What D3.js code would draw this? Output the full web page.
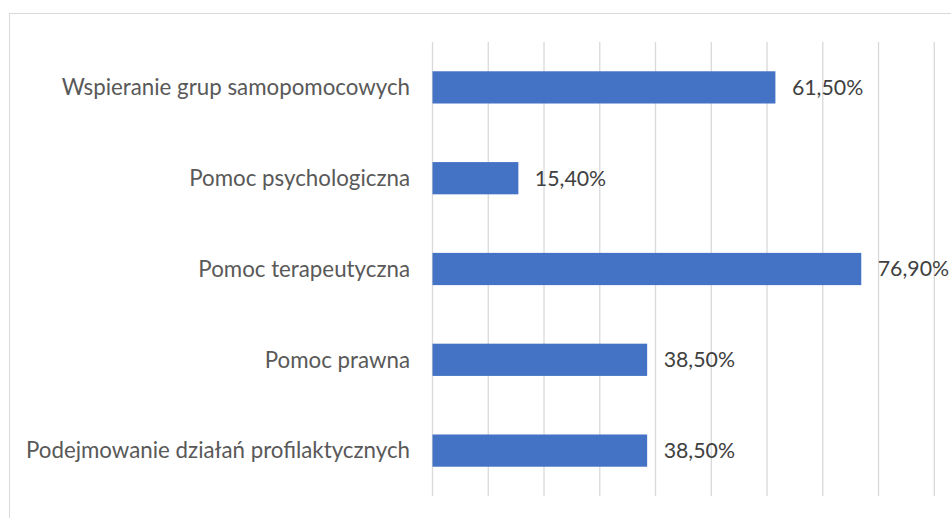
<!DOCTYPE html>
<html><head><meta charset="utf-8">
<script src="https://cdn.jsdelivr.net/npm/d3@7"></script>
<style>html,body{margin:0;padding:0;background:#fff;overflow:hidden}</style>
</head><body>
<svg id="chart" width="951" height="518"></svg>
<script>
const categories = ["Wspieranie grup samopomocowych","Pomoc psychologiczna","Pomoc terapeutyczna","Pomoc prawna","Podejmowanie działań profilaktycznych"];
const values = [0.615, 0.154, 0.769, 0.385, 0.385];
const xTicks = [0,0.1,0.2,0.3,0.4,0.5,0.6,0.7,0.8,0.9];

(function(){
const svg = d3.select("#chart");
const W = 951, H = 518;
const pLeft = 432.5, pRight = 934.3, pTop = 42, pBottom = 496;
const FONT = "Lato, 'Open Sans', sans-serif";

svg.append("rect").attr("x",9.5).attr("y",13.5).attr("width",W+20).attr("height",H+20)
  .attr("fill","#fff").attr("stroke","#d9d9d9").attr("stroke-width",1);

const x = d3.scaleLinear().domain([0,0.9]).range([pLeft,pRight]);
const y = d3.scaleBand().domain(categories).range([pTop,pBottom]).paddingInner(0.645).paddingOuter(0.3225);

svg.append("g").selectAll("line").data(xTicks).join("line")
  .attr("x1",d=>x(d)).attr("x2",d=>x(d)).attr("y1",pTop).attr("y2",pBottom)
  .attr("stroke","#d9d9d9").attr("stroke-width",1.3);

svg.append("g").selectAll("rect").data(values).join("rect")
  .attr("x",x(0)).attr("y",(d,i)=>y(categories[i]))
  .attr("width",d=>x(d)-x(0)).attr("height",y.bandwidth())
  .attr("fill","#4472c4");

const pl = d3.formatLocale({decimal:",",thousands:" ",grouping:[3],currency:["","zł"]});
const fmt = pl.format(".2%");

svg.append("g").selectAll("text").data(values).join("text")
  .attr("x",d=>x(d)+16.5).attr("y",(d,i)=>y(categories[i])+y.bandwidth()/2)
  .attr("dy","0.35em").attr("font-family",FONT).attr("font-size",21.3)
  .attr("fill","#404040").text(d=>fmt(d));

svg.append("g").selectAll("text").data(categories).join("text")
  .attr("x",410).attr("y",d=>y(d)+y.bandwidth()/2)
  .attr("dy","0.35em").attr("text-anchor","end").attr("font-family",FONT).attr("font-size",22.3)
  .attr("fill","#595959").text(d=>d);
})();
</script>
</body></html>
